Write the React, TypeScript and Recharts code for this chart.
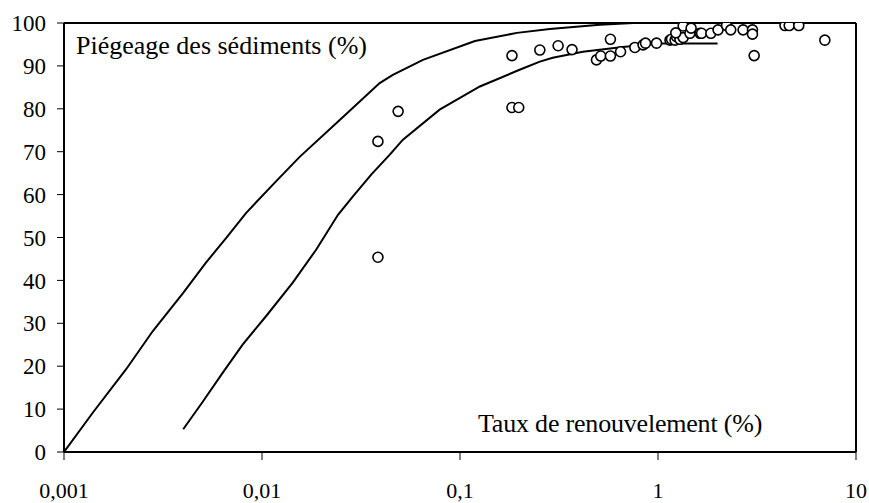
import React from 'react';
import { ScatterChart, Scatter, XAxis, YAxis, ReferenceLine } from 'recharts';

// enveloppe haute
const upperX = [0.001, 0.0014, 0.00206, 0.00281, 0.004, 0.0052, 0.0066, 0.0083, 0.012, 0.0155, 0.0247, 0.0393, 0.0458, 0.065, 0.119, 0.194, 0.284, 0.508, 0.75, 2];
const upperY = [0, 9.2, 19.3, 28.2, 37.1, 44.1, 49.9, 55.7, 63.5, 68.8, 77.4, 86, 87.9, 91.4, 95.8, 97.7, 98.6, 99.6, 100, 100];

// enveloppe basse
const lowerX = [0.004, 0.005, 0.00634, 0.008, 0.0105, 0.0143, 0.0188, 0.0242, 0.0288, 0.0357, 0.0442, 0.0515, 0.0789, 0.126, 0.2, 0.253, 0.294, 0.417, 0.664, 1.0, 2];
const lowerY = [5.3, 11.6, 18.5, 25.1, 31.7, 39.5, 47.2, 55.3, 59.6, 64.7, 69.3, 72.8, 79.8, 85.2, 89.1, 91.0, 91.9, 93.3, 94.4, 95.2, 95.2];

// observations
const obsX = [0.0385, 0.0385, 0.0487, 0.183, 0.198, 0.183, 0.253, 0.313, 0.368, 0.489, 0.514, 0.575, 0.575, 0.647, 0.764, 0.841, 0.865, 0.983, 1.15, 1.17, 1.22, 1.24, 1.29, 1.34, 1.34, 1.23, 1.45, 1.47, 1.63, 1.66, 1.85, 2.01, 2.22, 2.33, 2.69, 3.0, 3.0, 3.06, 4.38, 4.6, 5.14, 6.96];
const obsY = [45.4, 72.4, 79.4, 80.3, 80.3, 92.4, 93.7, 94.7, 93.8, 91.4, 92.3, 92.3, 96.2, 93.3, 94.3, 94.9, 95.3, 95.3, 96.0, 96.2, 96.0, 96.8, 96.2, 96.6, 99.3, 97.7, 97.6, 98.8, 97.6, 97.6, 97.6, 98.4, 99.4, 98.4, 98.4, 98.4, 97.4, 92.4, 99.4, 99.4, 99.4, 96.0];

const xTicks = [0.001, 0.01, 0.1, 1, 10];
const yTicks = [0, 10, 20, 30, 40, 50, 60, 70, 80, 90, 100];

const toPoints = (xs: number[], ys: number[]) => xs.map((x, i) => ({ x, y: ys[i] }));

const upper = toPoints(upperX, upperY);
const lower = toPoints(lowerX, lowerY);
const observations = toPoints(obsX, obsY);

const FONT = "'Liberation Serif', serif";
const xTickStyle = { fontFamily: FONT, fontSize: 22, fill: '#000' };
const yTickStyle = { fontFamily: FONT, fontSize: 23, fill: '#000' };

const NoDot = () => <g />;

const OpenCircle = (props: { cx?: number; cy?: number }) => {
  const { cx, cy } = props;
  if (cx == null || cy == null) return <g />;
  return <circle cx={cx} cy={cy} r={5} fill="#fff" stroke="#000" strokeWidth={1.6} />;
};

export default function App() {
  return (
    <div style={{ position: 'absolute', left: 0, top: 0, width: 869, height: 503, background: '#fff', fontFamily: FONT }}>
      <ScatterChart width={869} height={503} margin={{ top: 23, right: 13, bottom: 0, left: 0 }} style={{ fontFamily: FONT }}>
        <XAxis
          type="number"
          dataKey="x"
          scale="log"
          domain={[0.001, 10]}
          ticks={xTicks}
          allowDataOverflow
          tickFormatter={(v: number) => String(v).replace('.', ',')}
          tick={xTickStyle}
          tickSize={8}
          tickMargin={22}
          height={51}
          axisLine={{ stroke: '#000', strokeWidth: 2 }}
          tickLine={{ stroke: '#000', strokeWidth: 1 }}
        />
        <YAxis
          type="number"
          dataKey="y"
          domain={[0, 100]}
          ticks={yTicks}
          allowDataOverflow
          tick={yTickStyle}
          tickSize={7}
          tickMargin={11}
          width={64}
          axisLine={{ stroke: '#000', strokeWidth: 2 }}
          tickLine={{ stroke: '#000', strokeWidth: 1 }}
        />
        <ReferenceLine y={100} stroke="#000" strokeWidth={2} />
        <ReferenceLine x={10} stroke="#000" strokeWidth={2} />
        <Scatter data={upper} line={{ stroke: '#000', strokeWidth: 2 }} shape={NoDot} isAnimationActive={false} />
        <Scatter data={lower} line={{ stroke: '#000', strokeWidth: 2 }} shape={NoDot} isAnimationActive={false} />
        <Scatter data={observations} shape={OpenCircle} isAnimationActive={false} />
      </ScatterChart>
      <div style={{ position: 'absolute', left: 76, top: 33, fontFamily: FONT, fontSize: 26, lineHeight: '26px', whiteSpace: 'nowrap' }}>
        Piégeage des sédiments (%)
      </div>
      <div style={{ position: 'absolute', left: 478, top: 411, fontFamily: FONT, fontSize: 26, lineHeight: '26px', whiteSpace: 'nowrap', letterSpacing: '-0.2px' }}>
        Taux de renouvelement (%)
      </div>
    </div>
  );
}
